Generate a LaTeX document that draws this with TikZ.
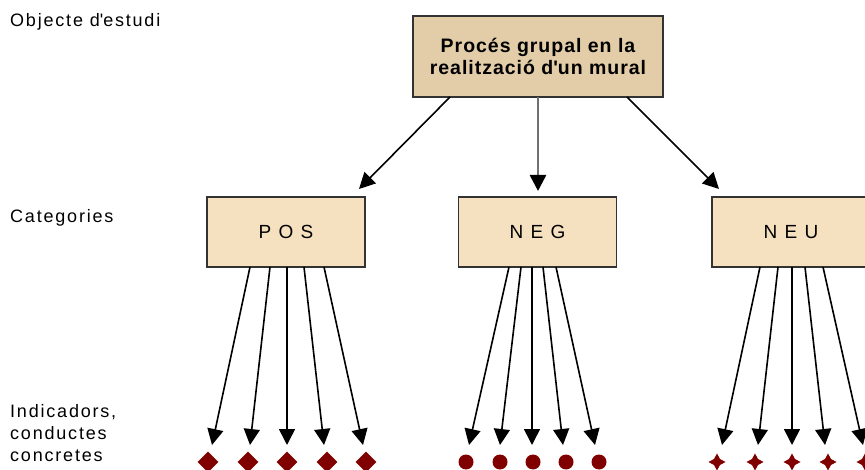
\documentclass[tikz,border=0pt]{standalone}
\usepackage{fontspec}
\setmainfont{Liberation Sans}
\usetikzlibrary{arrows.meta,shapes.geometric,shapes.symbols}
\definecolor{topfill}{HTML}{E2CDA8}
\definecolor{catfill}{HTML}{F5E0C0}
\definecolor{edge}{HTML}{333333}
\definecolor{mark}{HTML}{800000}
\definecolor{midgray}{HTML}{707070}
\tikzset{
  topbox/.style={draw=edge,line width=1.3pt,fill=topfill,minimum width=250pt,minimum height=81pt,inner sep=0pt,align=center,
    font=\fontsize{19.5}{22}\selectfont\bfseries\addfontfeatures{LetterSpace=5}},
  catbox/.style={draw=edge,line width=1.3pt,fill=catfill,minimum width=158pt,minimum height=70pt,inner sep=0pt,
    font=\fontsize{19}{22}\selectfont\addfontfeatures{LetterSpace=38}},
  lbl/.style={anchor=west,inner sep=0pt,align=left,font=\fontsize{18}{22}\selectfont\addfontfeatures{LetterSpace=10}},
  arr/.style={line width=1.6pt,-{Triangle[length=16pt,width=16pt]}},
  garr/.style={line width=2.6pt,color=midgray,-{Triangle[length=16pt,width=16pt,color=black]}},
  dia/.style={diamond,fill=mark,inner sep=0pt,minimum width=21pt,minimum height=21pt},
  dot/.style={circle,fill=mark,inner sep=0pt,minimum size=15pt},
  star4/.style={star,star points=4,star point ratio=2,fill=mark,inner sep=0pt,minimum size=17pt},
}
\begin{document}
\begin{tikzpicture}[x=1pt,y=-1pt]
\useasboundingbox (0,0) rectangle (865,470);
\clip (0,0) rectangle (865,470);
% left labels
\node[lbl] (l1) at (10,22) {Objecte d\textquotesingle estudi};
\node[lbl] (l2) at (10,218) {Categories};
\node[lbl,anchor=north west] (l3) at (10,404) {Indicadors,\\conductes\\concretes};
% boxes
\node[topbox] (obj) at (538,56.5) {Procés grupal en la\\realització d\textquotesingle un mural};
\node[catbox] (pos) at (286,232) {POS};
\node[catbox] (neg) at (537.5,232) {NEG};
\node[catbox] (neu) at (791,232) {NEU};
% top arrows
\coordinate (o1) at (450,97); \coordinate (o2) at (538,97); \coordinate (o3) at (627,97);
\coordinate (t1) at (359,189); \coordinate (t2) at (538,191); \coordinate (t3) at (719,189);
\draw[arr] (o1) -- (t1);
\draw[garr] (o2) -- (t2);
\draw[arr] (o3) -- (t3);
% markers
\foreach \x [count=\i] in {208,248,287,327,366}{\node[dia] (p\i) at (\x,462) {};}
\foreach \x [count=\i] in {466,500,533,566,599}{\node[dot] (n\i) at (\x,462) {};}
\foreach \x [count=\i] in {717,755,792,828,865}{\node[star4] (u\i) at (\x,462) {};}
% arrows to indicators
\foreach \s/\e [count=\i] in {250/212,270/250,287/287,304/324,324/363}{
  \coordinate (ps\i) at (\s,267); \coordinate (pe\i) at (\e,445);
  \draw[arr] (ps\i) -- (pe\i);}
\foreach \s/\e [count=\i] in {509/469,521/500,532/532,543/563,556/595}{
  \coordinate (ns\i) at (\s,267); \coordinate (ne\i) at (\e,445);
  \draw[arr] (ns\i) -- (ne\i);}
\foreach \s/\e [count=\i] in {760/722,778/758,792/792,805/825,823/863}{
  \coordinate (us\i) at (\s,267); \coordinate (ue\i) at (\e,445);
  \draw[arr] (us\i) -- (ue\i);}
\end{tikzpicture}
\end{document}
